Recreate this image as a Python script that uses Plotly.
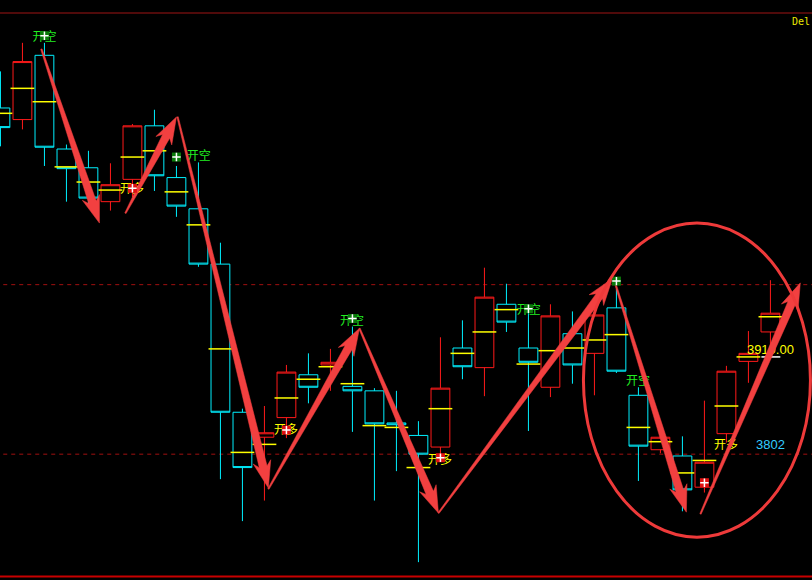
import numpy as np
import plotly.graph_objects as go

# ---------------- data ----------------
bar_index = list(range(36))
opens  = [4189, 4176, 4248, 4143, 4122, 4084, 4109, 4169, 4111, 4076, 4014, 3848,
          3820, 3842, 3890, 3901, 3877, 3872, 3836, 3822, 3809, 3920, 3898, 3969,
          3920, 3876, 3936, 3914, 3965, 3867, 3806, 3799, 3764, 3824, 3905, 3938]
highs  = [4230, 4262, 4262, 4148, 4141, 4127, 4171, 4187, 4124, 4128, 4038, 3852,
          3855, 3901, 3914, 3919, 3944, 3875, 3872, 3838, 3932, 3951, 4010, 3992,
          3966, 3969, 3961, 3970, 3986, 3876, 3821, 3821, 3861, 3900, 3939, 3996]
lows   = [4146, 4165, 4124, 4084, 4078, 4074, 4089, 4096, 4067, 4011, 3773, 3726,
          3749, 3819, 3858, 3872, 3826, 3749, 3782, 3680, 3794, 3885, 3866, 3938,
          3827, 3865, 3880, 3867, 3892, 3771, 3802, 3737, 3758, 3814, 3881, 3914]
closes = [4167, 4241, 4145, 4121, 4088, 4103, 4169, 4113, 4079, 4014, 3848, 3786,
          3825, 3893, 3876, 3904, 3872, 3835, 3834, 3801, 3875, 3899, 3977, 3949,
          3904, 3956, 3901, 3957, 3894, 3810, 3820, 3761, 3792, 3894, 3914, 3959]
mid_line = [4183, 4211, 4196, 4123, 4106, 4097, 4134, 4141, 4095, 4058, 3919, 3803,
            3812, 3864, 3885, 3899, 3880, 3833, 3831, 3786, 3852, 3914, 3938, 3963,
            3902, 3917, 3920, 3929, 3935, 3831, 3815, 3780, 3794, 3855, 3910, 3955]

# swing arrows: (x_start, p_start, x_end, p_end)
arrows = [
    (1.86, 4255, 4.50, 4060),
    (5.68, 4071, 8.00, 4179),
    (8.05, 4179, 12.18, 3763),
    (12.18, 3762, 16.32, 3942),
    (16.32, 3942, 19.91, 3735),
    (19.91, 3735, 27.82, 3998),
    (27.95, 3992, 31.18, 3736),
    (31.82, 3734, 36.36, 3993),
]

short_sig_x = [2, 8, 16, 24, 28]
short_sig_p = [4270, 4134, 3953, 3964, 3995]
long_sig_x = [6, 13, 20, 32]
long_sig_p = [4099, 3828, 3797, 3769]

short_txt_x = [2.0, 9.02, 15.98, 24.02, 28.98]
short_txt_p = [4267, 4134, 3949, 3962, 3882]
long_txt_x = [5.98, 12.98, 19.98, 32.98]
long_txt_p = [4097, 3827, 3793, 3810]

level_lines = [3991, 3801]
price_labels = ["3910.00", "3802"]
price_label_x = [35.0, 35.0]
price_label_p = [3917, 3810]
price_mark_x = [34.59, 35.45]
price_mark_p = [3910, 3910]

ellipse_box = (26.5, 3708, 36.82, 4060)

# ---------------- figure ----------------
W, H = 812, 580
X0, X1 = -0.02, 36.89
Y0, Y1 = 3660, 4310
sx = W / (X1 - X0)
sy = H / (Y1 - Y0)

RED = "#ff1a1a"
CYAN = "#00f0ff"
YEL = "#ffff00"
GRN = "#22ee22"
ARROW = "#f24040"

fig = go.Figure()

fig.add_trace(go.Candlestick(
    x=bar_index, open=opens, high=highs, low=lows, close=closes,
    increasing=dict(line=dict(color=RED, width=1), fillcolor="#000000"),
    decreasing=dict(line=dict(color=CYAN, width=1), fillcolor="#000000"),
    whiskerwidth=0, hoverinfo="skip", showlegend=False,
))

fig.add_trace(go.Scatter(
    x=bar_index, y=mid_line, mode="markers", hoverinfo="skip",
    marker=dict(symbol="line-ew", size=17, color=YEL, line=dict(color=YEL, width=1.5)),
))

# text labels (drawn below arrows)
fig.add_trace(go.Scatter(
    x=short_txt_x, y=short_txt_p, mode="text", text=["开空"] * len(short_txt_x),
    textfont=dict(family="Noto Sans CJK SC", size=12, color=GRN), hoverinfo="skip",
))
fig.add_trace(go.Scatter(
    x=long_txt_x, y=long_txt_p, mode="text", text=["开多"] * len(long_txt_x),
    textfont=dict(family="Noto Sans CJK SC", size=12, color=YEL), hoverinfo="skip",
))
fig.add_trace(go.Scatter(
    x=price_label_x, y=price_label_p, mode="text", text=price_labels,
    textfont=dict(family="Liberation Sans", size=13, color=[YEL, "#33ccff"]),
    hoverinfo="skip",
))
fig.add_trace(go.Scatter(
    x=price_mark_x, y=price_mark_p, mode="lines",
    line=dict(color="#ffffff", width=1.5), hoverinfo="skip",
))


def arrow_poly(x0, p0, x1, p1, w0=0.7, w1=4.0, hl=22, hw=9, sweep=5):
    a = np.array([x0 * sx, p0 * sy])
    b = np.array([x1 * sx, p1 * sy])
    d = b - a
    u = d / np.hypot(*d)
    n = np.array([-u[1], u[0]])
    base = b - u * hl
    pts = [a + n * w0, base + n * w1, base - u * sweep + n * hw, b,
           base - u * sweep - n * hw, base - n * w1, a - n * w0, a + n * w0]
    return [q[0] / sx for q in pts], [q[1] / sy for q in pts]


for (xa, pa, xb, pb) in arrows:
    xs, ys = arrow_poly(xa, pa, xb, pb)
    fig.add_trace(go.Scatter(
        x=xs, y=ys, mode="lines", fill="toself", fillcolor=ARROW,
        line=dict(color=ARROW, width=0.5), hoverinfo="skip",
    ))

# signal markers
fig.add_trace(go.Scatter(
    x=short_sig_x, y=short_sig_p, mode="markers", hoverinfo="skip",
    marker=dict(symbol="square", size=9, color="#0a7a0a", line=dict(width=0)),
))
fig.add_trace(go.Scatter(
    x=long_sig_x, y=long_sig_p, mode="markers", hoverinfo="skip",
    marker=dict(symbol="square", size=9, color="#e01010", line=dict(width=0)),
))
fig.add_trace(go.Scatter(
    x=short_sig_x + long_sig_x, y=short_sig_p + long_sig_p, mode="markers",
    hoverinfo="skip",
    marker=dict(symbol="cross-thin", size=6, color="#ffffff",
                line=dict(color="#ffffff", width=1.5)),
))

shapes = []
for lv in level_lines:
    shapes.append(dict(type="line", xref="paper", yref="y", x0=0.004, x1=1, y0=lv, y1=lv,
                       line=dict(color="#a01010", width=1, dash="4px,4px"), layer="below"))
shapes.append(dict(type="line", xref="paper", yref="paper", x0=0, x1=1,
                   y0=1 - 13 / H, y1=1 - 13 / H, line=dict(color="#a01414", width=1)))
shapes.append(dict(type="line", xref="paper", yref="paper", x0=0, x1=1,
                   y0=1 - 576.5 / H, y1=1 - 576.5 / H, line=dict(color="#c80000", width=2)))
ex0, ey0, ex1, ey1 = ellipse_box
shapes.append(dict(type="circle", xref="x", yref="y", x0=ex0, x1=ex1, y0=ey0, y1=ey1,
                   line=dict(color="#ee3a3a", width=3), layer="above"))

fig.update_layout(
    width=W, height=H, margin=dict(l=0, r=0, t=0, b=0),
    paper_bgcolor="#000000", plot_bgcolor="#000000",
    showlegend=False, shapes=shapes,
    boxgap=0.1, boxgroupgap=0.05,
    xaxis=dict(range=[X0, X1], visible=False, rangeslider=dict(visible=False),
               showgrid=False, zeroline=False, fixedrange=True),
    yaxis=dict(range=[Y0, Y1], visible=False, showgrid=False, zeroline=False,
               fixedrange=True),
    annotations=[dict(text="Del", xref="paper", yref="paper", x=1, y=1 - 22 / H,
                      xanchor="right", yanchor="middle", showarrow=False,
                      font=dict(family="DejaVu Sans Mono", size=10, color="#e8e800"))],
)

fig.write_html(
    "out.html",
    config=dict(displayModeBar=False, staticPlot=True),
    post_script="document.body.style.margin='0';document.body.style.background='#000';"
                "document.body.style.overflow='hidden';",
)
